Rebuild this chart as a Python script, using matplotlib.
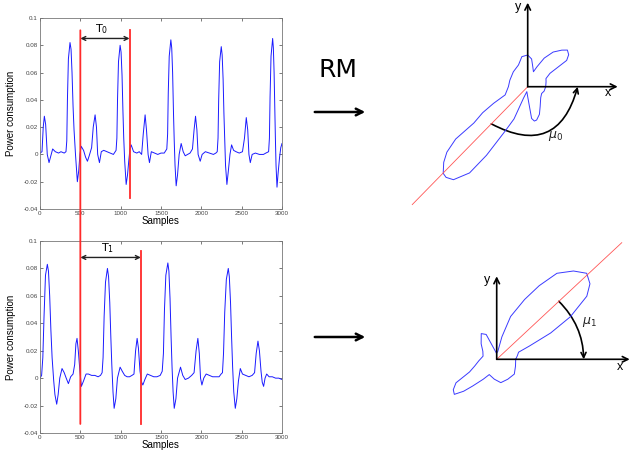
import numpy as np
import matplotlib
matplotlib.use("Agg")
from matplotlib import pyplot as plt
from matplotlib.patches import ConnectionPatch, FancyArrowPatch

plt.rcParams['font.family'] = ['Liberation Sans', 'DejaVu Sans']

# top trace (period T0), (sample, power)
top_trace = [
    (0, 0.001), (25, 0.002), (40, 0.02), (54, 0.028), (70, 0.022), (90, 0.0), (112, -0.006),
    (130, -0.002), (157, 0.004), (190, 0.002), (230, 0.001), (260, 0.002), (300, 0.001),
    (322, 0.002), (332, 0.01), (340, 0.04), (352, 0.07), (372, 0.082), (385, 0.077), (397, 0.06),
    (410, 0.035), (422, 0.018), (440, 0.0), (463, -0.02),
    (480, -0.012), (495, 0.0), (510, 0.006), (540, 0.003), (565, -0.002), (588, -0.005),
    (610, -0.001), (640, 0.005), (660, 0.02), (683, 0.029), (700, 0.02), (715, 0.0), (737, -0.006),
    (760, 0.002), (790, 0.003), (830, 0.002), (870, 0.001), (910, 0.0),
    (943, 0.003), (953, 0.012), (961, 0.04), (973, 0.068), (993, 0.080), (1005, 0.075),
    (1017, 0.058), (1028, 0.032), (1038, 0.012), (1050, -0.005), (1068, -0.022),
    (1085, -0.015), (1100, -0.005), (1115, 0.004), (1130, 0.007), (1160, 0.002), (1200, 0.001),
    (1230, 0.002), (1260, 0.0), (1280, 0.015), (1303, 0.029), (1320, 0.018), (1340, 0.0),
    (1357, -0.006), (1380, 0.002), (1420, 0.001), (1460, 0.0), (1500, 0.001), (1540, 0.001),
    (1572, 0.004), (1582, 0.015), (1590, 0.045), (1602, 0.072), (1622, 0.084), (1633, 0.078),
    (1644, 0.06), (1655, 0.03), (1664, 0.01), (1674, -0.008), (1688, -0.023),
    (1705, -0.015), (1725, 0.0), (1750, 0.008), (1775, 0.002), (1800, -0.001), (1830, 0.0),
    (1860, 0.001), (1890, 0.004), (1910, 0.018), (1928, 0.028), (1945, 0.018), (1960, 0.0),
    (1986, -0.005), (2010, 0.0), (2050, 0.002), (2100, 0.001), (2150, 0.0), (2180, 0.001),
    (2197, 0.002), (2207, 0.012), (2215, 0.04), (2227, 0.068), (2247, 0.079), (2258, 0.073),
    (2270, 0.055), (2280, 0.03), (2290, 0.01), (2300, -0.008), (2317, -0.022),
    (2335, -0.012), (2355, 0.0), (2375, 0.007), (2400, 0.003), (2430, 0.002), (2470, 0.001),
    (2510, 0.002), (2535, 0.012), (2557, 0.027), (2575, 0.018), (2590, 0.0), (2607, -0.006),
    (2630, 0.0), (2670, 0.001), (2720, 0.0), (2770, 0.0), (2800, 0.001),
    (2834, 0.002), (2844, 0.012), (2852, 0.042), (2864, 0.072), (2884, 0.085), (2893, 0.078),
    (2902, 0.06), (2910, 0.035), (2918, 0.012), (2926, -0.008), (2938, -0.024),
    (2950, -0.015), (2970, -0.002), (2985, 0.005), (3000, 0.008),
]

# bottom trace (period T1)
bot_trace = [
    (0, 0.0), (20, 0.002), (35, 0.015), (50, 0.045), (68, 0.075), (91, 0.083), (105, 0.078),
    (120, 0.06), (135, 0.035), (150, 0.015), (170, -0.002), (185, -0.012), (207, -0.019),
    (225, -0.012), (245, 0.0), (273, 0.007), (300, 0.004), (325, 0.0), (352, -0.004), (380, 0.001),
    (410, 0.003), (430, 0.01), (445, 0.025), (459, 0.029), (475, 0.02), (495, 0.005),
    (513, -0.006), (540, -0.002), (571, 0.003), (600, 0.003), (640, 0.002), (680, 0.002),
    (720, 0.001), (750, 0.002),
    (770, 0.004), (782, 0.015), (795, 0.045), (812, 0.07), (836, 0.080), (850, 0.074),
    (865, 0.055), (878, 0.03), (890, 0.01), (905, -0.01), (919, -0.022),
    (940, -0.015), (960, 0.0), (993, 0.008), (1020, 0.005), (1050, 0.002), (1080, 0.001),
    (1110, 0.001), (1140, 0.002), (1165, 0.003), (1185, 0.02), (1204, 0.029), (1220, 0.022),
    (1240, 0.005), (1260, -0.003), (1275, -0.005), (1300, -0.001), (1330, 0.003), (1370, 0.002),
    (1410, 0.001), (1450, 0.001), (1490, 0.002),
    (1515, 0.005), (1530, 0.018), (1543, 0.05), (1560, 0.075), (1585, 0.084), (1598, 0.078),
    (1612, 0.058), (1625, 0.03), (1637, 0.008), (1650, -0.01), (1664, -0.022),
    (1685, -0.015), (1705, 0.0), (1742, 0.008), (1770, 0.002), (1800, -0.001), (1840, 0.0),
    (1880, 0.002), (1910, 0.004), (1935, 0.02), (1957, 0.029), (1975, 0.018), (1990, 0.0),
    (2007, -0.005), (2030, 0.0), (2060, 0.003), (2100, 0.002), (2140, 0.001), (2180, 0.001),
    (2220, 0.001), (2245, 0.003),
    (2262, 0.004), (2275, 0.018), (2290, 0.048), (2310, 0.072), (2334, 0.080), (2347, 0.074),
    (2362, 0.055), (2375, 0.03), (2388, 0.008), (2402, -0.01), (2421, -0.022),
    (2440, -0.015), (2460, -0.002), (2483, 0.007), (2510, 0.003), (2550, 0.002), (2590, 0.001),
    (2630, 0.002), (2660, 0.004), (2680, 0.018), (2702, 0.027), (2720, 0.02), (2740, 0.005),
    (2755, -0.003), (2772, -0.006), (2790, 0.0), (2810, 0.003), (2840, 0.001), (2880, 0.001),
    (2920, 0.0), (2960, 0.0), (3000, -0.001),
]

xticks = [0, 500, 1000, 1500, 2000, 2500, 3000]
yticks = [-0.04, -0.02, 0, 0.02, 0.04, 0.06, 0.08, 0.1]
ytick_labels = ['-0.04', '-0.02', '0', '0.02', '0.04', '0.06', '0.08', '0.1']

# period markers: (start, end, top of red line, bottom of red line, arrow height, label)
period_top = (500, 1110, 0.091, -0.032, 0.085, r'$\mathrm{T}_0$')
period_bot = (500, 1250, 0.093, -0.0334, 0.088, r'$\mathrm{T}_1$')

# RM shapes: angle (deg) and radius
rm0_angle = [0, 15, 24, 31, 34, 38, 42.7, 47, 53.7, 60, 65, 69, 75, 82, 90, 101, 113, 134, 160, 180,
             200, 206, 210, 214, 216, 219, 222, 225.7, 228, 231.4, 236, 239, 243, 247, 250, 260, 270,
             277, 281, 285, 293, 302, 320, 334, 345, 360]
rm0_radius = [18, 19, 20, 26, 47, 52, 54, 50, 43, 33, 22, 16, 20, 28, 31.7, 30.6, 23.6, 20.7, 19,
              19.3, 24, 38, 52, 65, 89, 104, 113, 121, 122, 119, 104, 80, 50, 35, 12, 5, 10, 32, 35,
              34.5, 30, 23.5, 17, 15.5, 17, 18]
rm1_angle = [0, 10, 18, 22, 26, 30, 35, 39, 43.7, 49, 55, 60, 65, 72, 77, 82, 92, 103, 113, 121, 135,
             150, 167, 185, 197, 205, 210, 215, 219.6, 224, 228, 236, 244, 263, 280, 299, 320, 340, 360]
rm1_radius = [19, 21, 23, 35, 60, 85, 110, 120, 124.5, 117, 105, 85, 66, 45, 23, 8, 6, 10, 27, 30,
              22, 16, 14, 18, 23, 30, 47, 53, 55, 46, 36, 24, 17, 20, 23.7, 22.8, 23, 20, 19]
mu_angles = [225.6, 43]

W, H = 631, 457
fig = plt.figure(figsize=(W / 100, H / 100), dpi=100)


def trace_axes(rect, trace, period):
    ax = fig.add_axes(rect)
    samples, power = zip(*trace)
    ax.plot(samples, power, color='#1a1aff', lw=0.7)
    ax.set_xlim(0, 3000)
    ax.set_ylim(-0.04, 0.1)
    ax.set_xticks(xticks)
    ax.set_yticks(yticks)
    ax.set_yticklabels(ytick_labels)
    ax.tick_params(direction='in', top=True, right=True, labelsize=4.5, length=2.5,
                   width=0.5, pad=1.5, colors='#444444')
    for s in ax.spines.values():
        s.set_color('#777777')
        s.set_linewidth(0.6)
    ax.set_xlabel('Samples', fontsize=7, labelpad=0)
    ax.set_ylabel('Power consumption', fontsize=7)
    ax.yaxis.set_label_coords(-0.1, 0.5)
    start, end, ytop, ybot, yarr, label = period
    ax.annotate('', xy=(end, yarr), xytext=(start, yarr),
                arrowprops=dict(arrowstyle='<->', lw=1.0, color='#222222', mutation_scale=7,
                                shrinkA=0, shrinkB=0))
    ax.text((start + end) / 2 - 40, yarr + 0.002, label, fontsize=8, ha='center', va='bottom')
    return ax


ax_top = trace_axes([40 / W, (H - 209) / H, 242 / W, 191 / H], top_trace, period_top)
ax_bot = trace_axes([40 / W, (H - 433) / H, 242 / W, 192 / H], bot_trace, period_bot)

# red markers: shared start line spans both plots
red = dict(color='#ff2a2a', lw=1.3)
fig.add_artist(ConnectionPatch((period_top[0], period_top[2]), (period_bot[0], period_bot[3]),
                               'data', 'data', axesA=ax_top, axesB=ax_bot, **red))
ax_top.plot([period_top[1]] * 2, [period_top[2], period_top[3]], **red)
ax_bot.plot([period_bot[1]] * 2, [period_bot[2], period_bot[3]], **red)

# RM label and arrows
fig.text(338 / W, 1 - 70 / H, 'RM', fontsize=18, ha='center', va='center', family='DejaVu Sans')
for ypix in (112, 337):
    fig.add_artist(FancyArrowPatch((312 / W, 1 - ypix / H), (368 / W, 1 - ypix / H),
                                   transform=fig.transFigure, arrowstyle='->', lw=1.8,
                                   mutation_scale=12, color='black'))


def rm_axes(rect, xlim, ylim, angle, radius, mu, red_len, ylen, xlen, arc_r, rad, mu_pos, mu_label,
            ylab_pos, xlab_pos):
    ax = fig.add_axes(rect)
    ax.set_xlim(*xlim)
    ax.set_ylim(*ylim)
    ax.axis('off')
    th = np.deg2rad(angle)
    r = np.asarray(radius)
    ax.plot(r * np.cos(th), r * np.sin(th), color='#3a3aff', lw=0.7)
    m = np.deg2rad(mu)
    ax.plot([0, red_len * np.cos(m)], [0, red_len * np.sin(m)], color='#ff5555', lw=0.6)
    arr = dict(arrowstyle='->', lw=1.2, color='black', mutation_scale=10, shrinkA=0, shrinkB=0)
    ax.annotate('', xy=(0, ylen), xytext=(0, 0), arrowprops=arr, annotation_clip=False)
    ax.annotate('', xy=(xlen, 0), xytext=(0, 0), arrowprops=arr, annotation_clip=False)
    ax.add_patch(FancyArrowPatch((arc_r[0] * np.cos(m), arc_r[0] * np.sin(m)), (arc_r[1], 0),
                                 connectionstyle='arc3,rad=%s' % rad, arrowstyle='->', lw=1.2,
                                 mutation_scale=9, color='black', shrinkA=0, shrinkB=0))
    ax.text(*mu_pos, mu_label, fontsize=9, ha='center', va='center', color='#222222')
    ax.text(*ylab_pos, 'y', fontsize=9, ha='center', va='center')
    ax.text(*xlab_pos, 'x', fontsize=9, ha='center', va='center')


rm_axes([370 / W, (H - 215) / H, 261 / W, 215 / H], (-157.7, 103.3), (-128.3, 86.7),
        rm0_angle, rm0_radius, mu_angles[0], 165, 84, 90, (52, 50), 0.62,
        (28, -49), r'$\mu_0$', (-10, 80), (80, -6))
rm_axes([400 / W, 0, 231 / W, 232 / H], (-96.7, 134.3), (-97.7, 134.3),
        rm1_angle, rm1_radius, mu_angles[1], 171, 83, 133, (85, 87), -0.2,
        (93, 37), r'$\mu_1$', (-10, 79), (123, -8))

fig.savefig('out.png', dpi=100)
